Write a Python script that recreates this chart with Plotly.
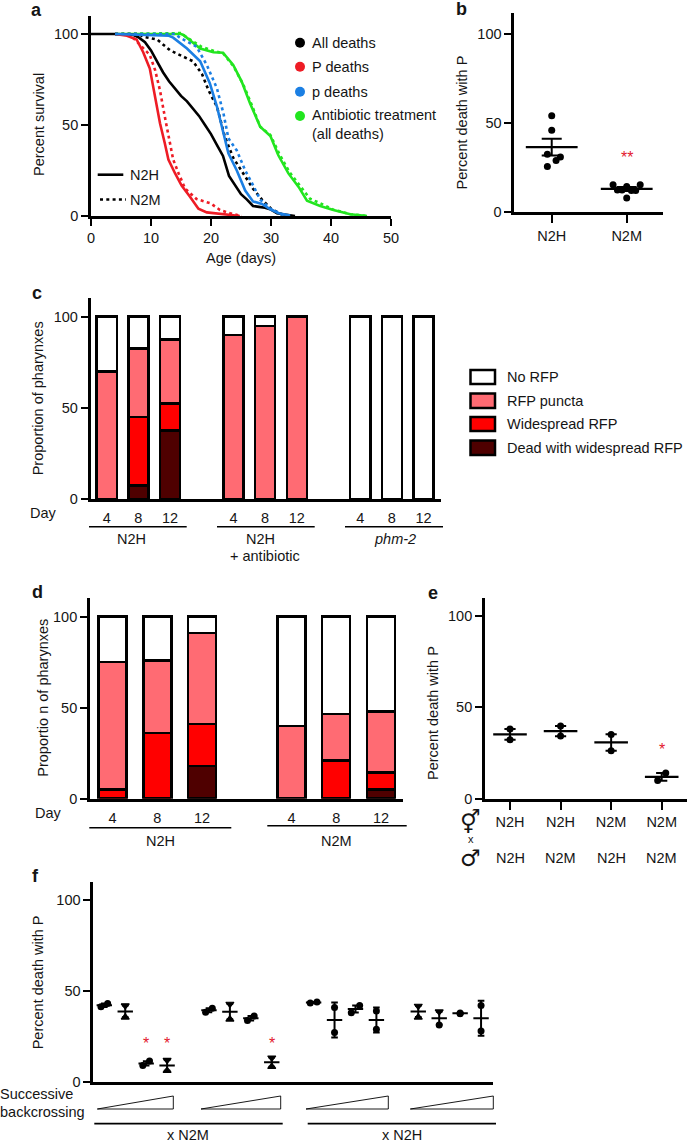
import plotly.graph_objects as go

W, H = 687, 1142
FONT = "Liberation Sans"
FS = 14.5
INK = "#151515"
RED = "#ff0000"
PUNCTA = "#ff6b73"
DEAD = "#4f0000"
STAR = "#e3182d"
C_P, C_BLUE, C_GREEN = "#ee1c25", "#1b7fe3", "#22e51f"

# ---------- panel a ----------
a_all_h_x = [0, 4, 7, 8, 9, 10, 11, 12, 13, 14, 15, 16, 17, 18, 19, 20, 21, 22, 23, 24, 25, 26, 27, 28, 29, 30, 31, 32, 33, 34]
a_all_h_y = [100, 100, 99.5, 98, 95.5, 91, 85, 79, 74, 70, 66, 63, 59, 55, 50, 45, 39, 33, 22, 17, 12, 9, 5.5, 5, 4.5, 3.5, 1.5, 1, 0.5, 0]
a_all_m_x = [4, 8, 8.7, 11, 13.2, 15, 17, 18.5, 19.6, 21, 22.3, 23.7, 25.4, 27, 28.5, 30, 32, 33]
a_all_m_y = [100, 100, 98.5, 97, 91, 88, 85, 78, 69, 60, 43.6, 32, 23.5, 15, 9, 4, 0.5, 0]
a_p_h_x = [4, 6, 7.6, 8.7, 9.8, 10.7, 11.5, 12.3, 12.9, 14, 15.1, 16.5, 17.9, 19.3, 21, 22.6, 24.8]
a_p_h_y = [100, 99, 97, 90, 81, 65.6, 51, 40, 31, 23.5, 16.7, 10.6, 4, 2, 1.5, 1, 0]
a_p_m_x = [7, 8.2, 9.8, 10.7, 11.5, 12.3, 13.2, 13.7, 14.6, 15.7, 17.6, 19.9, 21.5, 23.2, 25.1]
a_p_m_y = [98, 94, 88.5, 80, 69, 54.6, 40, 31, 23.4, 15, 9.3, 7, 3.3, 1.5, 0]
a_b_h_x = [4, 13, 13.7, 16, 18.2, 19.8, 21, 22, 22.9, 24.3, 25.7, 27, 28.5, 29.9, 31.3, 33.2]
a_b_h_y = [100, 99, 98, 92, 85, 73, 60, 47, 34.4, 25, 14, 8, 6.6, 3.7, 1.5, 0.2]
a_b_m_x = [4, 14, 14.8, 17.6, 19.3, 21, 22.1, 22.9, 24.3, 25.7, 27, 28.2, 29.9, 32]
a_b_m_y = [100, 100, 98, 93, 83, 70, 56, 42.7, 36, 25, 17, 9, 4, 0.5]
a_g_h_x = [4, 15, 15.4, 16.8, 18.2, 20.4, 22, 23.7, 25.1, 26.5, 28.2, 29.9, 31.2, 32.9, 34.6, 36, 38.2, 40.4, 43.2, 46]
a_g_h_y = [100, 100, 99.5, 96, 92, 90, 89.7, 83, 74, 62, 49, 44, 33.5, 23.4, 16, 8.4, 5.5, 3.3, 1, 0]
a_g_m_x = [4, 15, 15.6, 17, 18.4, 20.6, 22, 23.8, 25.4, 26.8, 28.2, 29.9, 31.4, 33.1, 34.8, 36.5, 38.2, 40.4, 43.2, 46]
a_g_m_y = [100, 100.5, 99, 96, 93, 90.5, 89.5, 82, 72, 61, 49, 44.5, 34, 24, 17, 9.5, 7, 3.5, 1, 0]
a_legend = ["All deaths", "P deaths", "p deaths", "Antibiotic treatment<br>(all deaths)"]

# ---------- panel b ----------
b_x = [1, 2]
b_labels = ["N2H", "N2M"]
b_mean = [36.5, 13.1]
b_se = [4.7, 1.1]
b_n2h_x = [1, 1, 0.942, 1.116, 1.058, 0.942]
b_n2h_y = [54.1, 46, 32.6, 31, 29, 25.7]
b_n2m_x = [1.818, 2.18, 2, 1.876, 1.938, 2.062, 2.12, 2]
b_n2m_y = [15.4, 15.4, 14.4, 12.5, 12.5, 12.2, 12.2, 8]

# ---------- panel c ----------
c_x = [0, 1, 2, 4, 5, 6, 8, 9, 10]
c_days = ["4", "8", "12", "4", "8", "12", "4", "8", "12"]
c_dead = [None, 7.5, 37.5, None, None, None, None, None, None]
c_wide = [None, 37.5, 15, None, None, None, None, None, None]
c_puncta = [70, 37.5, 35, 90, 95, 100, None, None, None]
c_none = [30, 17.5, 12.5, 10, 5, None, 100, 100, 100]

# ---------- panel d ----------
d_x = [0, 1, 2, 4, 5, 6]
d_days = ["4", "8", "12", "4", "8", "12"]
d_dead = [None, None, 18, None, None, 5]
d_wide = [5, 36, 23, None, 21, 9.5]
d_puncta = [70, 40, 50, 40, 25.5, 33.5]
d_none = [25, 24, 9, 60, 53.5, 52]

# ---------- panel e ----------
e_x = [1, 2, 3, 4]
e_row1 = ["N2H", "N2H", "N2M", "N2M"]
e_row2 = ["N2H", "N2M", "N2H", "N2M"]
e_mean = [35.2, 37, 30.8, 11.9]
e_se = [2.9, 2.8, 4.5, 2.1]
e_pt_x = [1, 1, 2, 2, 3, 3, 4.08, 3.92]
e_pt_y = [38.1, 32.3, 39.8, 34.3, 35.2, 26.3, 14, 9.9]

# ---------- panel f ----------
f_x = [0, 1, 2, 3, 5, 6, 7, 8, 10, 11, 12, 13, 15, 16, 17, 18]
f_mean = [42.1, 38.7, 10.2, 9.1, 39.3, 38.6, 35, 10.9, 43.6, 34, 40, 34, 38.7, 35, 37.7, 35]
f_se = [0.9, 3.2, 1.2, 2.9, 1.1, 4.2, 1.2, 2.5, 0.3, 9.6, 1.9, 6.9, 3.1, 3.6, 0.2, 9.6]
f_hi_x = [0.16, 1, 2.16, 3, 5.16, 6, 7.16, 8, 10.16, 11, 12.2, 13, 15, 16, 17, 18]
f_hi_y = [43, 41.9, 11.5, 12, 40.4, 42.8, 36.2, 13.3, 43.9, 40.8, 41.9, 39, 41.7, 38.6, 37.9, 42]
f_lo_x = [-0.16, 1, 1.84, 3, 4.84, 6, 6.84, 8, 9.84, 11, 11.8, 13, 15, 16, 17, 18]
f_lo_y = [41.3, 35.5, 9, 6.2, 38.2, 34.4, 33.8, 8.4, 43.3, 27.2, 38, 28.9, 35.5, 31.3, 37.5, 28]
# plotly symbol codes: 0 circle, 5 triangle-up, 6 triangle-down
f_hi_sym = [0, 6, 0, 6, 0, 6, 0, 6, 0, 0, 0, 0, 6, 6, 0, 0]
f_lo_sym = [0, 5, 0, 5, 0, 5, 0, 5, 0, 0, 0, 0, 5, 0, 0, 0]


def px(x):
    return x / W


def py(y):
    return 1 - y / H


fig = go.Figure()
layout = dict(width=W, height=H, margin=dict(l=0, r=0, t=0, b=0), paper_bgcolor="white", plot_bgcolor="rgba(0,0,0,0)",
              showlegend=False, barmode="stack", font=dict(family=FONT, size=FS, color=INK))
annotations, shapes = [], []


def axes(n, left, right, y0, ytop, xr, y100, xticks=None, xlabels=None, xlen=0):
    ymax = (y0 - ytop) / (y0 - y100) * 100
    suffix = "" if n == 1 else str(n)
    layout["xaxis" + suffix] = dict(
        domain=[px(left), px(right)], range=xr, anchor="y" + suffix, showgrid=False, zeroline=False,
        showline=True, linewidth=2.7, linecolor="black", ticks="outside" if xticks is not None else "",
        ticklen=xlen, tickwidth=2.2, tickcolor="black", tickmode="array",
        tickvals=xticks if xticks is not None else [], ticktext=xlabels,
        tickfont=dict(family=FONT, size=FS, color=INK), automargin=False)
    layout["yaxis" + suffix] = dict(
        domain=[py(y0), py(ytop)], range=[0, ymax], anchor="x" + suffix, showgrid=False, zeroline=False,
        showline=True, linewidth=2.7, linecolor="black", ticks="outside", ticklen=7, tickwidth=2.2,
        tickcolor="black", tickmode="array", tickvals=[0, 50, 100], ticktext=["0", "50", "100"],
        tickfont=dict(family=FONT, size=FS, color=INK), automargin=False)


def text(t, x, y, size=FS, color=INK, anchor="center", rot=0, family=FONT, bold=False):
    annotations.append(dict(text=t, x=px(x), y=py(y), xref="paper", yref="paper", showarrow=False, xanchor=anchor,
                            yanchor="middle", textangle=rot, borderpad=0,
                            font=dict(family=family, size=size, color=color, weight="bold" if bold else "normal")))


def hline(x0, x1, y, w=1.8, dash=None):
    shapes.append(dict(type="line", xref="paper", yref="paper", x0=px(x0), x1=px(x1), y0=py(y), y1=py(y),
                       line=dict(color="black", width=w, dash=dash)))


def star(t, axis, x, y):
    suffix = "" if axis == 1 else str(axis)
    annotations.append(dict(text=t, x=x, y=y, xref="x" + suffix, yref="y" + suffix, showarrow=False, yanchor="middle",
                            borderpad=0, font=dict(family=FONT, size=16, color=STAR)))


# ----- a -----
axes(1, 91, 391, 216, 16, [0, 50], 34, [0, 10, 20, 30, 40, 50], ["0", "10", "20", "30", "40", "50"], 7)
DOTS = "3px,3.3px"
for xs, ys, c, d in [(a_g_m_x, a_g_m_y, C_GREEN, DOTS), (a_g_h_x, a_g_h_y, C_GREEN, None),
                     (a_all_m_x, a_all_m_y, "black", DOTS), (a_all_h_x, a_all_h_y, "black", None),
                     (a_p_m_x, a_p_m_y, C_P, DOTS), (a_p_h_x, a_p_h_y, C_P, None),
                     (a_b_m_x, a_b_m_y, C_BLUE, DOTS), (a_b_h_x, a_b_h_y, C_BLUE, None)]:
    fig.add_trace(go.Scatter(x=xs, y=ys, mode="lines", line=dict(color=c, width=2.6, dash=d), xaxis="x", yaxis="y"))
for lab, yy, c in zip(a_legend, [42.7, 66.7, 91.7, 125], ["black", C_P, C_BLUE, C_GREEN]):
    dot_y = 116 if lab.startswith("Anti") else yy
    shapes.append(dict(type="circle", xref="paper", yref="paper", x0=px(295), x1=px(305), y0=py(dot_y + 5), y1=py(dot_y - 5),
                       fillcolor=c, line=dict(width=0)))
    annotations.append(dict(text=lab, x=px(311), y=py(yy), xref="paper", yref="paper", showarrow=False, xanchor="left",
                            yanchor="middle", align="left", borderpad=0, font=dict(family=FONT, size=FS, color=INK)))
hline(97.7, 123.3, 174.7, 2.6)
hline(100, 126, 199.5, 2.6, DOTS)
text("N2H", 129, 175, anchor="left")
text("N2M", 129, 199.5, anchor="left")
text("Age (days)", 240.7, 258)
text("Percent survival", 39, 125, rot=-90)
text("a", 36.7, 10, size=18, bold=True)

# ----- b -----
axes(2, 514.3, 663, 212.3, 13, [0.501, 2.484], 34, b_x, b_labels, 8)
fig.add_trace(go.Scatter(x=b_n2h_x + b_n2m_x, y=b_n2h_y + b_n2m_y, mode="markers", xaxis="x2", yaxis="y2",
                         marker=dict(color="black", size=7)))
fig.add_trace(go.Scatter(x=b_x, y=b_mean, mode="markers", xaxis="x2", yaxis="y2",
                         marker=dict(symbol="line-ew", size=37, line=dict(color="black", width=2.2)),
                         error_y=dict(type="data", array=b_se, thickness=2, width=10, color="black")))
star("**", 2, 2, 31)
text("Percent death with P", 462, 122.5, rot=-90)
text("b", 461, 9, size=18, bold=True)

# ----- c -----
axes(3, 90.7, 441, 499, 298, [-0.505, 10.55], 316.7, c_x, c_days, 4)
layout["xaxis3"]["tickcolor"] = "rgba(0,0,0,0)"
for vals, col in [(c_dead, DEAD), (c_wide, RED), (c_puncta, PUNCTA), (c_none, "white")]:
    fig.add_trace(go.Bar(x=c_x, y=vals, width=0.635, xaxis="x3", yaxis="y3", marker=dict(color=col, line=dict(color="black", width=2.5))))
text("Proportion of pharynxes", 38.3, 398, rot=-90)
text("Day", 43.7, 512.7)
text("c", 36.7, 292.7, size=18, bold=True)
hline(89, 186.7, 526.7, 1.5)
hline(217, 314.7, 526.7, 1.5)
hline(345, 443, 526.7, 1.5)
text("N2H", 131, 539)
text("N2H", 260, 539)
text("+ antibiotic", 265, 556)
text("<i>phm-2</i>", 395, 539)
for lab, y0, y1, c in zip(["No RFP", "RFP puncta", "Widespread RFP", "Dead with widespread RFP"],
                          [370, 393.5, 417, 440.5], [384, 408, 431, 455], ["white", PUNCTA, RED, DEAD]):
    shapes.append(dict(type="rect", xref="paper", yref="paper", x0=px(470.5), x1=px(495), y0=py(y1), y1=py(y0),
                       fillcolor=c, line=dict(color="black", width=2.5)))
    text(lab, 506, (y0 + y1) / 2, anchor="left")

# ----- d -----
axes(4, 90, 403.3, 798.7, 598.3, [-0.505, 6.5], 616.7, d_x, d_days, 4)
layout["xaxis4"]["tickcolor"] = "rgba(0,0,0,0)"
for vals, col in [(d_dead, DEAD), (d_wide, RED), (d_puncta, PUNCTA), (d_none, "white")]:
    fig.add_trace(go.Bar(x=d_x, y=vals, width=0.626, xaxis="x4", yaxis="y4", marker=dict(color=col, line=dict(color="black", width=2.5))))
text("Proportio n of pharynxes", 42.7, 698, rot=-90)
text("Day", 48.7, 812.7)
text("d", 37, 591.7, size=18, bold=True)
hline(89.3, 231.3, 827.7, 1.5)
hline(267.3, 406.7, 825.7, 1.5)
text("N2H", 160, 841)
text("N2M", 336.7, 841)

# ----- e -----
axes(5, 485, 687, 798.7, 598, [0.5056, 4.5], 616, e_x, e_row1, 8)
fig.add_trace(go.Scatter(x=e_pt_x, y=e_pt_y, mode="markers", xaxis="x5", yaxis="y5", marker=dict(color="black", size=7)))
fig.add_trace(go.Scatter(x=e_x, y=e_mean, mode="markers", xaxis="x5", yaxis="y5",
                         marker=dict(symbol="line-ew", size=24, line=dict(color="black", width=2.2)),
                         error_y=dict(type="data", array=e_se, thickness=2, width=5.6, color="black")))
for xv, lab in zip(e_x, e_row2):
    annotations.append(dict(text=lab, x=xv, xref="x5", y=py(858.3), yref="paper", showarrow=False, yanchor="middle",
                            borderpad=0, font=dict(family=FONT, size=FS, color=INK)))
star("*", 5, 4, 27)
text("Percent death with P", 433, 713, rot=-90)
text("e", 432.7, 592.7, size=18, bold=True)
text("\u26a5", 470, 821, size=23, family="DejaVu Sans")
text("x", 471, 838.5, size=11)
text("\u2642", 470, 858, size=23, family="DejaVu Sans")

# ----- f -----
axes(6, 93.3, 493.3, 1082, 881.7, [-0.526, 18.585], 899.7)
for xs, ys, syms in [(f_hi_x, f_hi_y, f_hi_sym), (f_lo_x, f_lo_y, f_lo_sym)]:
    fig.add_trace(go.Scatter(x=xs, y=ys, mode="markers", xaxis="x6", yaxis="y6",
                             marker=dict(color="black", size=7, opacity=1, symbol=syms,
                                         line=dict(color="black", width=[0 if s == 0 else 1.2 for s in syms]))))
fig.add_trace(go.Scatter(x=f_x, y=f_mean, mode="markers", xaxis="x6", yaxis="y6",
                         marker=dict(symbol="line-ew", size=11, line=dict(color="black", width=2)),
                         error_y=dict(type="data", array=f_se, thickness=2, width=3.3, color="black")))
for xv in [2, 3, 8]:
    star("*", 6, xv, 21)
text("Percent death with P", 38.3, 982, rot=-90)
text("f", 35, 875.7, size=18, bold=True)
text("Successive", -1, 1094.3, anchor="left")
text("backcrossing", -1, 1112.3, anchor="left")
for x0, x1 in [(97.3, 173.3), (201, 280.7), (306, 388.3), (410.3, 493.3)]:
    path = f"M {px(x0)} {py(1109)} L {px(x1)} {py(1096)} L {px(x1)} {py(1109)} Z"
    shapes.append(dict(type="path", xref="paper", yref="paper", path=path, line=dict(color="black", width=0.9)))
hline(94.3, 282.7, 1123.7)
hline(307.7, 496, 1123.7)
text("x N2M", 188.3, 1135)
text("x N2H", 401.7, 1135)

layout["annotations"] = annotations
layout["shapes"] = shapes
fig.update_layout(**layout)
fig.write_html("out.html", config=dict(displayModeBar=False),
               post_script="document.body.style.margin='0';document.documentElement.style.overflow='hidden';")
